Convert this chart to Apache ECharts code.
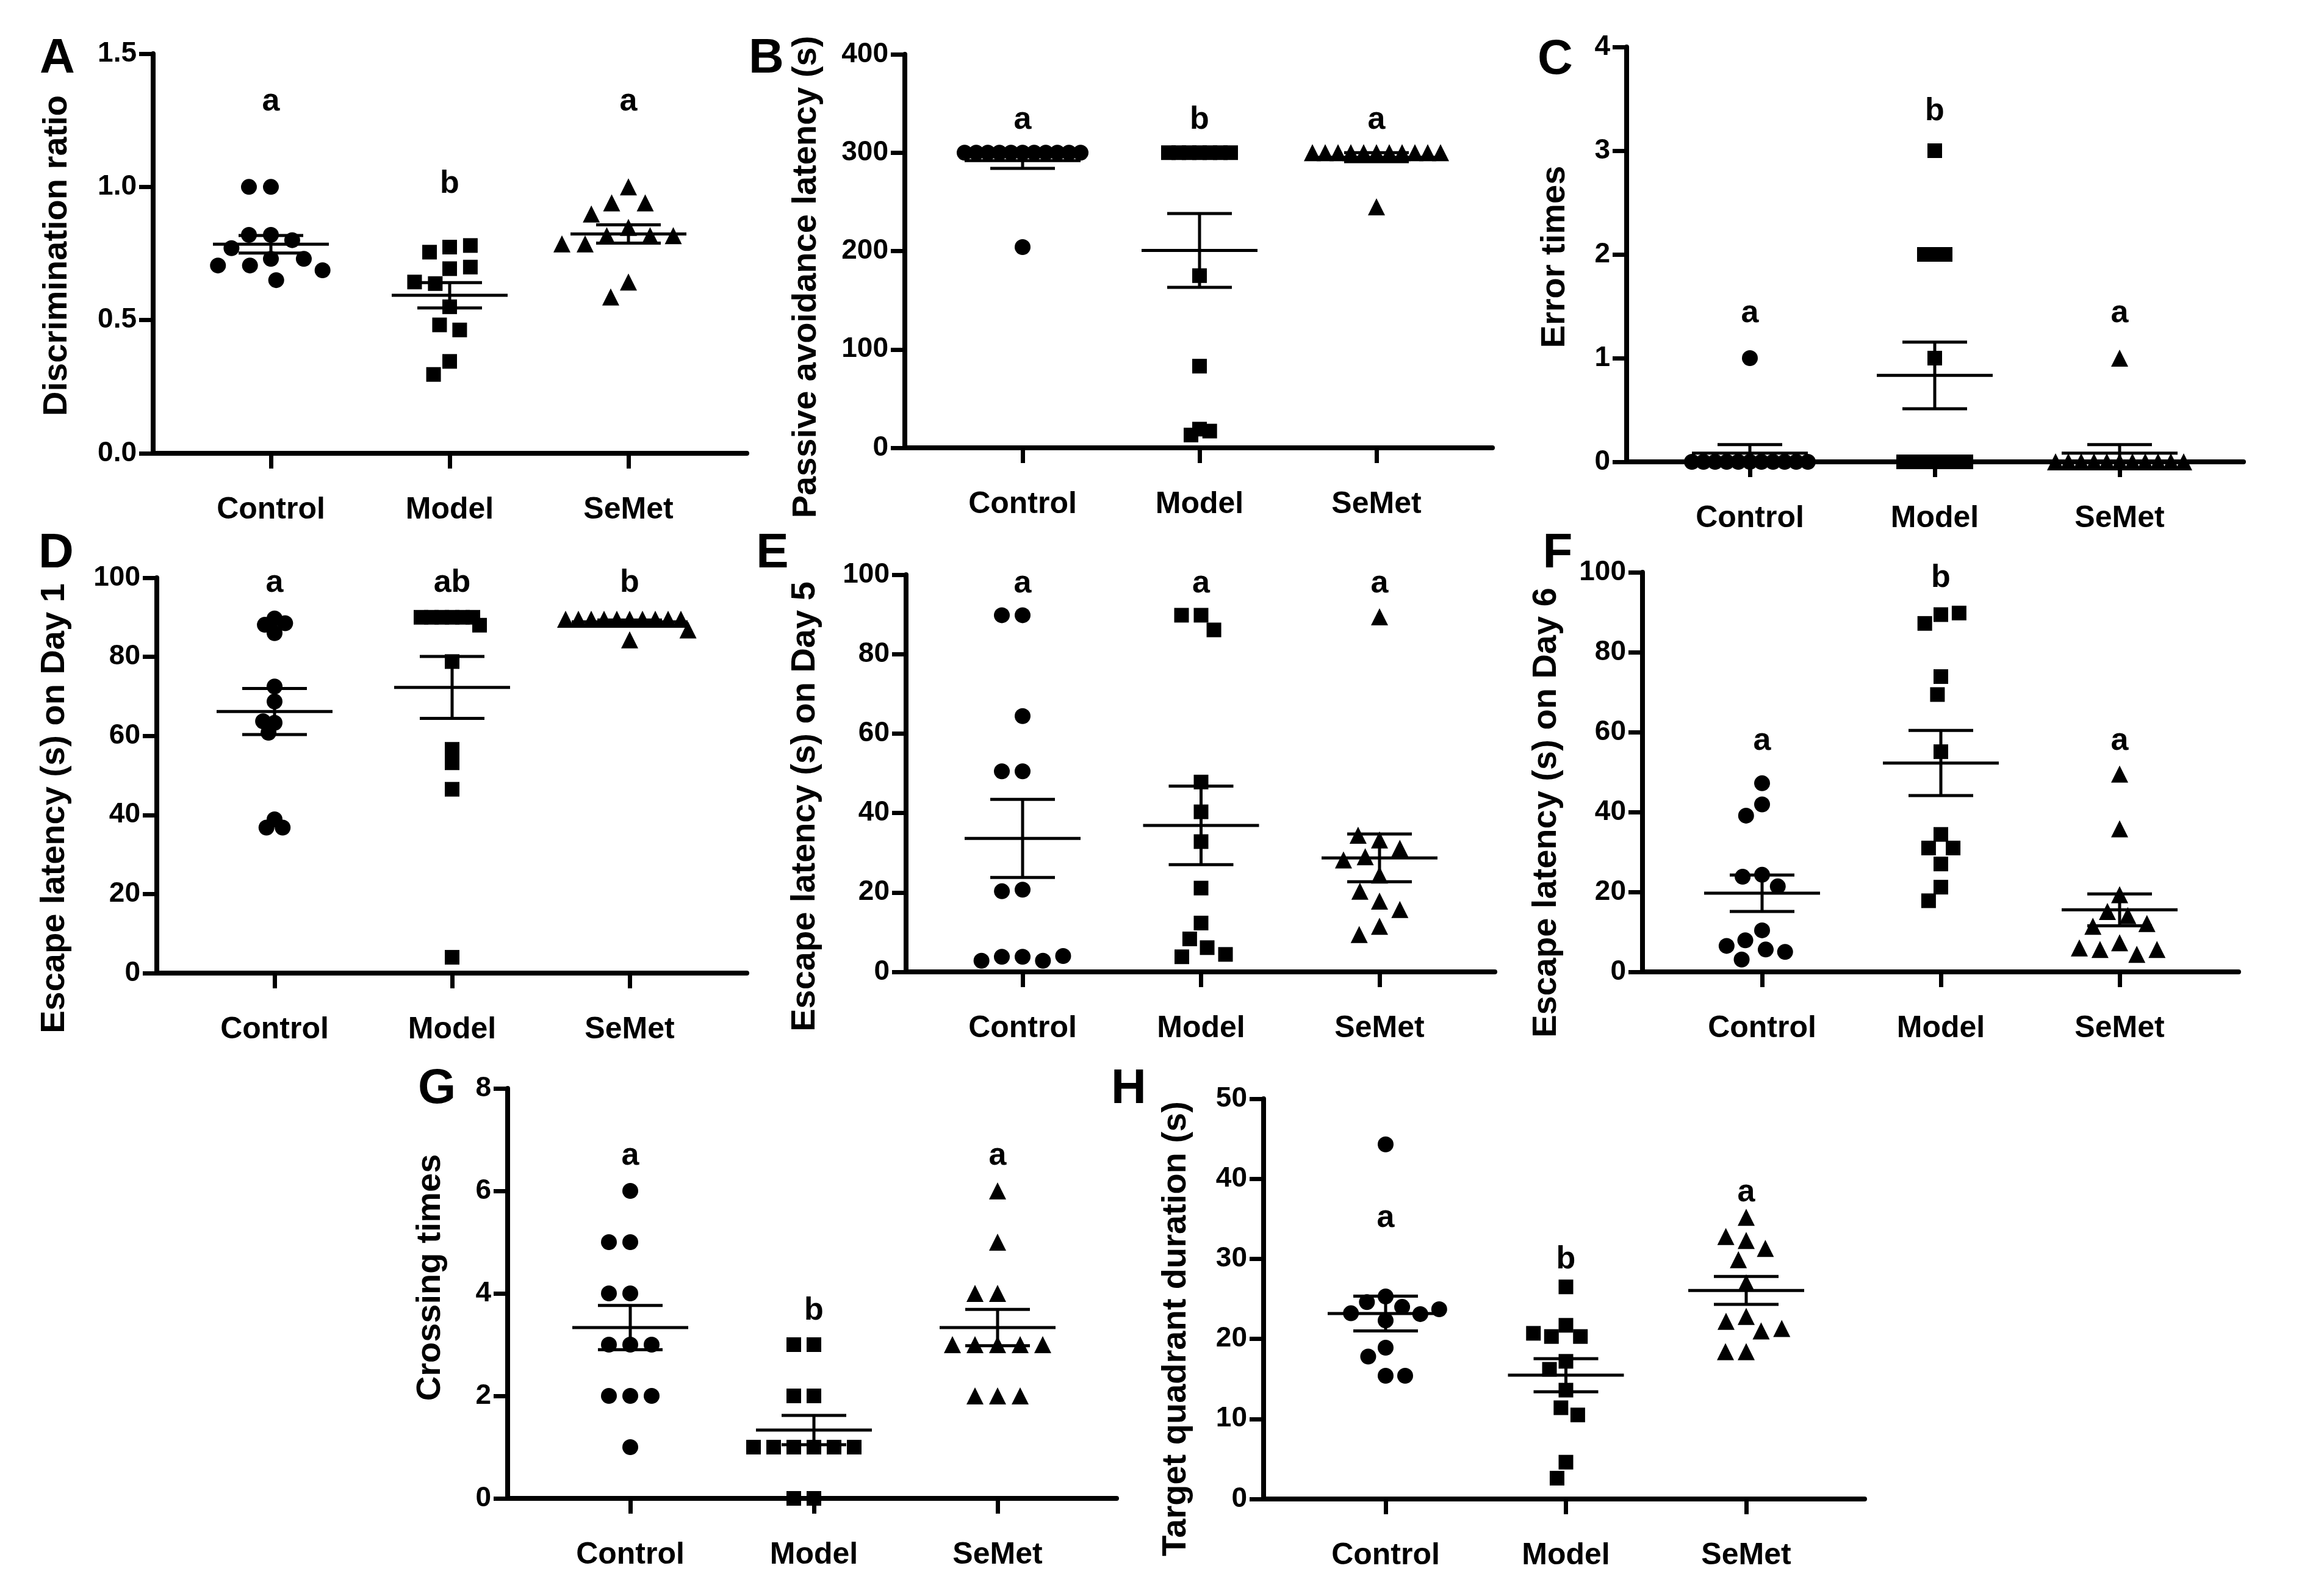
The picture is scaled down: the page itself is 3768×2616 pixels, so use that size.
<!DOCTYPE html>
<html>
<head>
<meta charset="utf-8">
<script src="https://cdn.jsdelivr.net/npm/echarts@6/dist/echarts.min.js"></script>
<style>
html, body { margin: 0; padding: 0; background: #fff; }
#chart { width: 3768px; height: 2616px; }
</style>
</head>
<body>
<div id="chart"></div>
<script>
var groups = ['Control', 'Model', 'SeMet'];

// A - novel object test
var discTicks = [0, 0.5, 1.0, 1.5];
var discControl = [1.0, 1.0, 0.82, 0.82, 0.80, 0.77, 0.73, 0.73, 0.705, 0.705, 0.687, 0.65];
var discModel = [0.774, 0.755, 0.78, 0.693, 0.699, 0.637, 0.643, 0.55, 0.482, 0.463, 0.345, 0.296];
var discSemet = [1.0, 0.94, 0.94, 0.898, 0.848, 0.817, 0.817, 0.817, 0.786, 0.786, 0.643, 0.587];
var discLetters = ['a', 'b', 'a'];
var discLetterY = [1.32, 1.01, 1.32];

// B - passive avoidance
var passTicks = [0, 100, 200, 300, 400];
var passControl = [300, 300, 300, 300, 300, 300, 300, 300, 300, 300, 300, 204];
var passModel = [300, 300, 300, 300, 300, 300, 300, 175, 83, 19, 13, 17];
var passSemet = [300, 300, 300, 300, 300, 300, 300, 300, 300, 300, 300, 245];
var passLetters = ['a', 'b', 'a'];
var passLetterY = [333, 333, 333];

// C - error times
var errTicks = [0, 1, 2, 3, 4];
var errControl = [1, 0, 0, 0, 0, 0, 0, 0, 0, 0, 0, 0];
var errModel = [3, 2, 2, 2, 1, 0, 0, 0, 0, 0, 0, 0];
var errSemet = [1, 0, 0, 0, 0, 0, 0, 0, 0, 0, 0, 0];
var errLetters = ['a', 'b', 'a'];
var errLetterY = [1.43, 3.38, 1.43];

// D, E, F - escape latency
var latTicks = [0, 20, 40, 60, 80, 100];
var day1Control = [89.7, 88.1, 86.0, 88.5, 72.5, 68.7, 63.3, 63.7, 60.8, 38.9, 36.8, 36.8];
var day1Model = [90, 90, 90, 90, 90, 90, 88, 78.8, 56.6, 53.2, 46.5, 4.0];
var day1Semet = [89.5, 89.5, 89.5, 89.5, 89.5, 89.5, 89.5, 89.5, 89.5, 89.5, 86.8, 84.3];
var day1Letters = ['a', 'ab', 'b'];
var day1LetterY = [98.6, 98.6, 98.6];

var day5Control = [89.8, 89.8, 64.4, 50.5, 50.5, 20.7, 20.3, 3.8, 3.8, 2.8, 2.8, 4.0];
var day5Model = [89.8, 89.8, 86.1, 47.8, 40.3, 32.8, 21.1, 12.3, 8.3, 6.1, 3.8, 4.4];
var day5Semet = [89.4, 33.2, 34.4, 29.0, 31.1, 28.2, 24.4, 17.8, 20.3, 15.7, 11.5, 9.4];
var day5Letters = ['a', 'a', 'a'];
var day5LetterY = [97.8, 97.8, 97.8];

var day6Control = [47.2, 41.9, 39.1, 24.3, 23.8, 21.4, 10.4, 7.9, 5.6, 5.0, 6.5, 3.1];
var day6Model = [89.4, 87.2, 89.8, 73.9, 69.4, 55.1, 34.4, 31.0, 31.0, 27.0, 21.2, 17.8];
var day6Semet = [49.5, 35.8, 19.3, 15.1, 14.1, 12.1, 11.4, 7.3, 5.6, 4.4, 5.6, 6.0];
var day6Letters = ['a', 'b', 'a'];
var day6LetterY = [57.8, 98.5, 57.8];

// G - platform crossings
var crossTicks = [0, 2, 4, 6, 8];
var crossControl = [6, 5, 5, 4, 4, 3, 3, 3, 2, 2, 2, 1];
var crossModel = [3, 3, 2, 2, 1, 1, 1, 1, 1, 1, 0, 0];
var crossSemet = [6, 5, 4, 4, 3, 3, 3, 3, 3, 2, 2, 2];
var crossLetters = ['a', 'b', 'a'];
var crossLetterY = [6.68, 3.66, 6.68];

// H - time in target quadrant
var targetTicks = [0, 10, 20, 30, 40, 50];
var targetControl = [44.3, 25.3, 24.6, 24.0, 23.2, 23.1, 23.7, 22.3, 18.9, 17.8, 15.4, 15.4];
var targetModel = [26.5, 21.7, 20.3, 20.3, 20.7, 17.2, 16.2, 13.6, 11.4, 10.5, 4.6, 2.6];
var targetSemet = [35.2, 32.3, 32.8, 31.3, 29.9, 27.0, 22.8, 22.2, 21.0, 21.3, 18.4, 18.4];
var targetLetters = ['a', 'b', 'a'];
var targetLetterY = [35.1, 29.9, 38.3];

var panels = [
    { tag: 'A', name: 'Discrimination ratio', ticks: discTicks, decimals: 1,
      sets: [discControl, discModel, discSemet], letters: discLetters, letterY: discLetterY },
    { tag: 'B', name: 'Passive avoidance latency (s)', ticks: passTicks, decimals: 0,
      sets: [passControl, passModel, passSemet], letters: passLetters, letterY: passLetterY },
    { tag: 'C', name: 'Error times', ticks: errTicks, decimals: 0,
      sets: [errControl, errModel, errSemet], letters: errLetters, letterY: errLetterY },
    { tag: 'D', name: 'Escape latency (s) on Day 1', ticks: latTicks, decimals: 0,
      sets: [day1Control, day1Model, day1Semet], letters: day1Letters, letterY: day1LetterY },
    { tag: 'E', name: 'Escape latency (s) on Day 5', ticks: latTicks, decimals: 0,
      sets: [day5Control, day5Model, day5Semet], letters: day5Letters, letterY: day5LetterY },
    { tag: 'F', name: 'Escape latency (s) on Day 6', ticks: latTicks, decimals: 0,
      sets: [day6Control, day6Model, day6Semet], letters: day6Letters, letterY: day6LetterY },
    { tag: 'G', name: 'Crossing times', ticks: crossTicks, decimals: 0,
      sets: [crossControl, crossModel, crossSemet], letters: crossLetters, letterY: crossLetterY },
    { tag: 'H', name: 'Target quadrant duration (s)', ticks: targetTicks, decimals: 0,
      sets: [targetControl, targetModel, targetSemet], letters: targetLetters, letterY: targetLetterY }
];

// pixel layout of each panel: axis origin, top, x-axis end, first/last group centre
var layout = [
    { x0: 251, y0: 743, y1: 88, x2: 1224, c0: 444, c2: 1030, tagAt: [94, 97], nameAt: [94, 419], jitter: 220, margin: 10 },
    { x0: 1483, y0: 734, y1: 89, x2: 2446, c0: 1676, c2: 2256, tagAt: [1256, 97], nameAt: [1322, 454], jitter: 210, margin: -7 },
    { x0: 2666, y0: 757, y1: 77, x2: 3677, c0: 2868, c2: 3474, tagAt: [2549, 99], nameAt: [2549, 421], jitter: 230, margin: -7 },
    { x0: 257, y0: 1595, y1: 947, x2: 1224, c0: 450, c2: 1032, tagAt: [92, 908], nameAt: [90, 1325], jitter: 240, margin: -7 },
    { x0: 1485, y0: 1593, y1: 942, x2: 2450, c0: 1676, c2: 2261, tagAt: [1266, 908], nameAt: [1320, 1322], jitter: 230, margin: 8 },
    { x0: 2692, y0: 1593, y1: 938, x2: 3669, c0: 2888, c2: 3474, tagAt: [2553, 908], nameAt: [2535, 1332], jitter: 270, margin: 6 },
    { x0: 832, y0: 2456, y1: 1784, x2: 1830, c0: 1033, c2: 1635, tagAt: [716, 1786], nameAt: [706, 2094], jitter: 220, margin: 9 },
    { x0: 2071, y0: 2457, y1: 1801, x2: 3056, c0: 2271, c2: 2862, tagAt: [1850, 1786], nameAt: [1928, 2178], jitter: 250, margin: 6 }
];

var FONT = '"Liberation Sans", Arial, Helvetica, sans-serif';
var symbols = ['circle', 'rect', 'triangle'];
var symbolSizes = [26, 24, 28];

function meanSem(arr) {
    var n = arr.length, s = 0, i;
    for (i = 0; i < n; i++) s += arr[i];
    var m = s / n, ss = 0;
    for (i = 0; i < n; i++) ss += (arr[i] - m) * (arr[i] - m);
    return [m, Math.sqrt(ss / (n - 1)) / Math.sqrt(n)];
}

function statsRenderer(params, api) {
    var g = api.value(0), m = api.value(1), e = api.value(2);
    var pm = api.coord([g, m]);
    var pt = api.coord([g, m + e]);
    var pb = api.coord([g, m - e]);
    var st = { stroke: '#000', lineWidth: 5 };
    return {
        type: 'group',
        children: [
            { type: 'line', shape: { x1: pm[0] - 95, y1: pm[1], x2: pm[0] + 95, y2: pm[1] }, style: st },
            { type: 'line', shape: { x1: pt[0], y1: pt[1], x2: pb[0], y2: pb[1] }, style: st },
            { type: 'line', shape: { x1: pt[0] - 53, y1: pt[1], x2: pt[0] + 53, y2: pt[1] }, style: st },
            { type: 'line', shape: { x1: pb[0] - 53, y1: pb[1], x2: pb[0] + 53, y2: pb[1] }, style: st }
        ]
    };
}

function letterRenderer(letters) {
    return function (params, api) {
        var p = api.coord([api.value(0), api.value(1)]);
        return {
            type: 'text', x: p[0], y: p[1],
            style: {
                text: letters[params.dataIndex], fill: '#000',
                fontSize: 52, fontWeight: 'bold', fontFamily: FONT,
                align: 'center', verticalAlign: 'middle'
            }
        };
    };
}

var grid = [], xAxis = [], yAxis = [], series = [], graphic = [];

panels.forEach(function (p, i) {
    var L = layout[i];
    var s = (L.c2 - L.c0) / 2;
    var ymin = p.ticks[0], ymax = p.ticks[p.ticks.length - 1], step = p.ticks[1] - p.ticks[0];
    var fg = 2 * i, dg = 2 * i + 1;

    // frame grid: full-length axes
    grid.push({ left: L.x0, top: L.y1, width: L.x2 - L.x0, height: L.y0 - L.y1 });
    // data grid: three groups spaced like the reference
    grid.push({ left: L.c0 - s / 2, top: L.y1, width: 3 * s, height: L.y0 - L.y1 });

    xAxis.push({
        gridIndex: fg, type: 'value', min: 0, max: 1,
        axisLine: { show: true, lineStyle: { color: '#000', width: 8 } },
        axisTick: { show: false }, axisLabel: { show: false }, splitLine: { show: false }
    });
    xAxis.push({
        gridIndex: dg, type: 'category', data: groups, boundaryGap: true,
        jitter: L.jitter, jitterOverlap: false, jitterMargin: L.margin,
        axisLine: { show: false },
        axisTick: { show: true, alignWithLabel: true, length: 25, lineStyle: { color: '#000', width: 7 } },
        axisLabel: { color: '#000', fontSize: 50, fontWeight: 'bold', fontFamily: FONT, margin: 68 },
        splitLine: { show: false }
    });
    yAxis.push({
        gridIndex: fg, type: 'value', min: ymin, max: ymax, interval: step,
        axisLine: { show: true, lineStyle: { color: '#000', width: 8 } },
        axisTick: { show: true, length: 23, lineStyle: { color: '#000', width: 7 } },
        axisLabel: {
            color: '#000', fontSize: 46, fontWeight: 'bold', fontFamily: FONT, margin: 27,
            formatter: function (v) { return v.toFixed(p.decimals); }
        },
        splitLine: { show: false }
    });
    yAxis.push({ gridIndex: dg, type: 'value', min: ymin, max: ymax, show: false });

    var xi = 2 * i + 1, yi = 2 * i + 1;
    var statData = [];
    p.sets.forEach(function (vals, g) {
        series.push({
            type: 'scatter', xAxisIndex: xi, yAxisIndex: yi,
            symbol: symbols[g], symbolSize: symbolSizes[g],
            itemStyle: { color: '#000', opacity: 1 }, silent: true, z: 2,
            data: vals.map(function (v) { return [g, v]; })
        });
        var ms = meanSem(vals);
        statData.push([g, ms[0], ms[1]]);
    });
    series.push({
        type: 'custom', xAxisIndex: xi, yAxisIndex: yi, z: 3, silent: true,
        renderItem: statsRenderer, data: statData
    });
    series.push({
        type: 'custom', xAxisIndex: xi, yAxisIndex: yi, z: 3, silent: true,
        renderItem: letterRenderer(p.letters),
        data: p.letterY.map(function (v, g) { return [g, v]; })
    });

    graphic.push({
        type: 'text', x: L.tagAt[0], y: L.tagAt[1],
        style: { text: p.tag, fill: '#000', fontSize: 80, fontWeight: 'bold', fontFamily: FONT,
                 align: 'center', verticalAlign: 'middle' }
    });
    graphic.push({
        type: 'text', x: L.nameAt[0], y: L.nameAt[1], rotation: Math.PI / 2,
        style: { text: p.name, fill: '#000', fontSize: 56, fontWeight: 'bold', fontFamily: FONT,
                 align: 'center', verticalAlign: 'middle' }
    });
});

var chart = echarts.init(document.getElementById('chart'));
chart.setOption({
    backgroundColor: '#fff',
    animation: false,
    grid: grid,
    xAxis: xAxis,
    yAxis: yAxis,
    series: series,
    graphic: graphic
});
</script>
</body>
</html>
